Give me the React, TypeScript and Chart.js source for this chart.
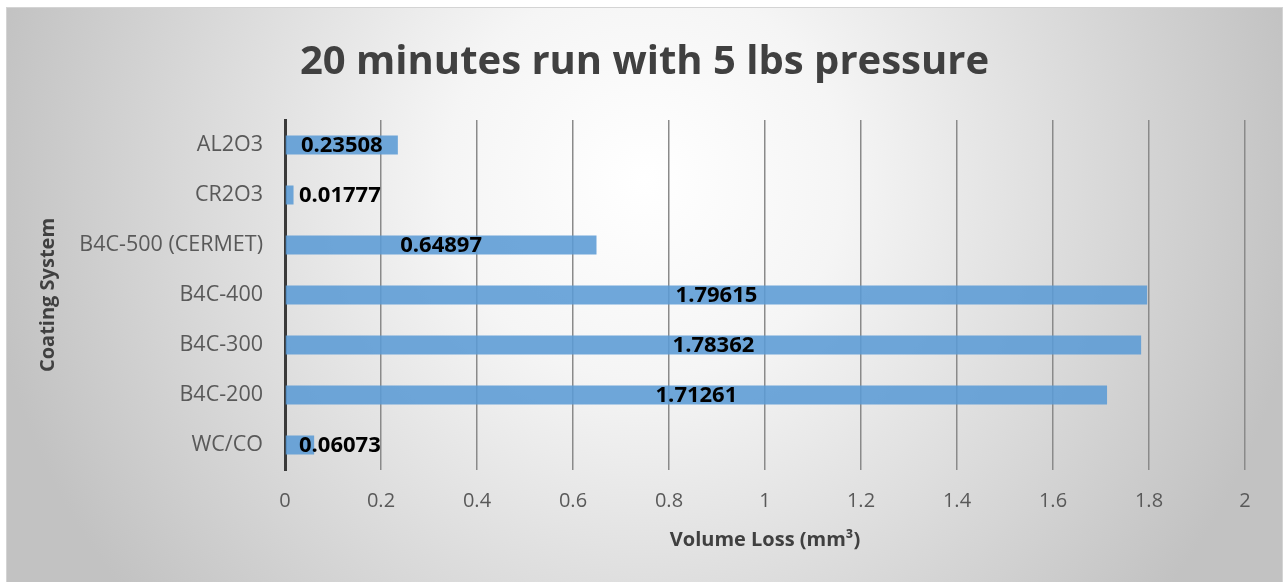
import React, { useEffect, useRef } from "react";
import { Chart, registerables } from "chart.js";

Chart.register(...registerables);

const categories = [
  "AL2O3",
  "CR2O3",
  "B4C-500 (CERMET)",
  "B4C-400",
  "B4C-300",
  "B4C-200",
  "WC/CO",
];
const volumeLoss = [0.23508, 0.01777, 0.64897, 1.79615, 1.78362, 1.71261, 0.06073];
const valueLabels = ["0.23508", "0.01777", "0.64897", "1.79615", "1.78362", "1.71261", "0.06073"];
const titleText = "20 minutes run with 5 lbs pressure";
const xTitle = "Volume Loss (mm\u00B3)";
const yTitle = "Coating System";

const FONT = "'Open Sans', 'Noto Sans', sans-serif";

const backgroundPlugin = {
  id: "bgGradient",
  beforeDraw(chart: any) {
    const { ctx, width, height } = chart;
    ctx.save();
    const cx = width / 2;
    const cy = height * 0.3;
    const g = ctx.createRadialGradient(cx, cy, 0, cx, cy, width * 0.52);
    g.addColorStop(0, "#ffffff");
    g.addColorStop(0.3, "#f5f5f5");
    g.addColorStop(1, "#c2c2c2");
    ctx.fillStyle = g;
    ctx.fillRect(0, 0, width, height);
    ctx.strokeStyle = "#d4d4d4";
    ctx.lineWidth = 1;
    ctx.strokeRect(0.5, 0.5, width - 1, height);
    ctx.restore();
  },
};

const valueLabelPlugin = {
  id: "valueLabels",
  afterDatasetsDraw(chart: any) {
    const { ctx, chartArea } = chart;
    const meta = chart.getDatasetMeta(0);
    ctx.save();
    ctx.font = `bold 22px ${FONT}`;
    ctx.fillStyle = "#000000";
    ctx.textBaseline = "middle";
    ctx.textAlign = "left";
    meta.data.forEach((bar: any, i: number) => {
      const text = valueLabels[i];
      const w = ctx.measureText(text).width;
      const center = (bar.base + bar.x) / 2;
      let left = center - w / 2;
      const minLeft = chartArea.left + 14;
      if (left < minLeft) left = minLeft;
      ctx.fillText(text, left, bar.y + 1);
    });
    ctx.restore();
  },
};

function BarChart() {
  const ref = useRef<HTMLCanvasElement | null>(null);
  useEffect(() => {
    if (!ref.current) return;
    const chart = new Chart(ref.current, {
      type: "bar",
      data: {
        labels: categories,
        datasets: [
          {
            data: volumeLoss,
            backgroundColor: "rgba(91,155,213,0.88)",
            borderWidth: 0,
            categoryPercentage: 0.4,
            barPercentage: 0.95,
          },
        ],
      },
      options: {
        indexAxis: "y",
        animation: false,
        responsive: false,
        maintainAspectRatio: false,
        layout: { padding: { left: 0, right: 0, top: 0, bottom: 0 } },
        plugins: {
          legend: { display: false },
          tooltip: { enabled: false },
          title: {
            display: true,
            text: titleText,
            color: "#404040",
            font: { family: FONT, size: 40, weight: "bold", lineHeight: 1.2 },
            padding: { top: 32, bottom: 33 },
          },
        },
        scales: {
          x: {
            type: "linear",
            min: 0,
            max: 2,
            afterFit: (s: any) => {
              s.height = 112;
            },
            ticks: {
              stepSize: 0.2,
              color: "#595959",
              font: { family: FONT, size: 20 },
              padding: 19,
              callback: (v: any) => String(Math.round(Number(v) * 10) / 10),
            },
            grid: {
              color: "#8a8a8a",
              lineWidth: 1.5,
              drawTicks: false,
            },
            border: { display: false },
            title: {
              display: true,
              text: xTitle,
              color: "#404040",
              font: { family: FONT, size: 20, weight: "bold", lineHeight: 1.2 },
              padding: { top: 0, bottom: 30 },
            },
          },
          y: {
            afterFit: (s: any) => {
              s.width = 279;
            },
            ticks: {
              color: "#595959",
              font: { family: FONT, size: 21.5 },
              padding: 22,
            },
            grid: { display: false, drawTicks: false },
            border: { display: true, color: "#3a3a3a", width: 3 },
            title: {
              display: true,
              text: yTitle,
              color: "#404040",
              font: { family: FONT, size: 20, weight: "bold", lineHeight: 1.2 },
              padding: { top: 30, bottom: 0 },
            },
          },
          yRight: {
            type: "category",
            position: "right",
            afterFit: (s: any) => {
              s.width = 38;
            },
            ticks: { display: false },
            grid: { display: false, drawTicks: false },
            border: { display: false },
          },
        },
      },
      plugins: [backgroundPlugin, valueLabelPlugin],
    } as any);
    return () => chart.destroy();
  }, []);
  return (
    <div style={{ position: "absolute", left: 6, top: 7, width: 1277, height: 575 }}>
      <canvas ref={ref} width={1277} height={575} style={{ display: "block" }} />
    </div>
  );
}

export default function App() {
  return <BarChart />;
}
